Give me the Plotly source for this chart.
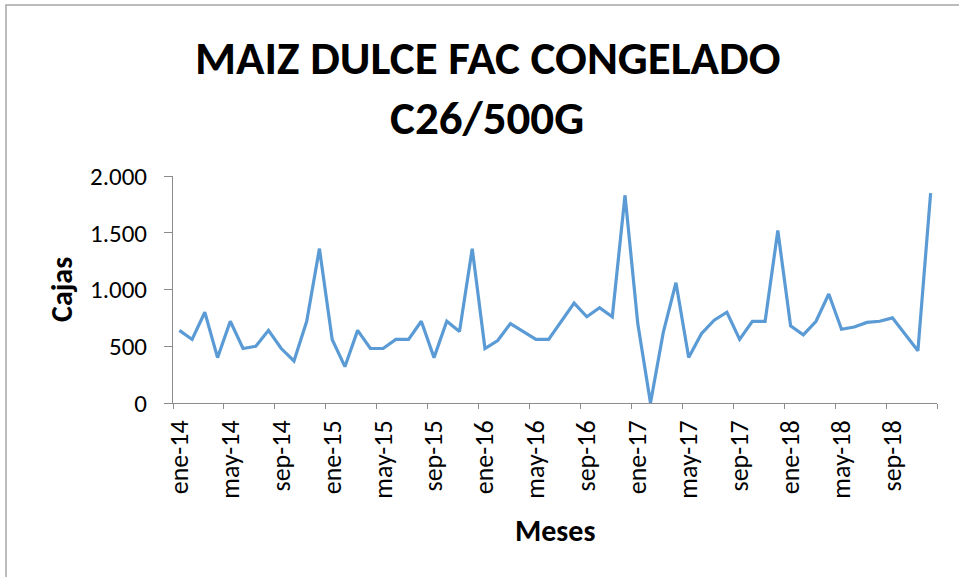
import plotly.graph_objects as go

month_abbr = ["ene", "feb", "mar", "abr", "may", "jun", "jul", "ago", "sep", "oct", "nov", "dic"]
years = ["14", "15", "16", "17", "18"]
months = [f"{m}-{y}" for y in years for m in month_abbr]

cajas = [
    640, 560, 800, 400, 720, 480, 500, 640, 480, 370, 720, 1360,
    560, 320, 640, 480, 480, 560, 560, 720, 400, 720, 630, 1360,
    480, 550, 700, 630, 560, 560, 720, 880, 760, 840, 760, 1830,
    700, 0, 620, 1060, 400, 610, 730, 800, 560, 720, 720, 1520,
    680, 600, 720, 960, 650, 670, 710, 720, 750, 600, 460, 1850,
]

title_lines = ["MAIZ DULCE FAC CONGELADO", "C26/500G"]
x_title = "Meses"
y_title = "Cajas"
y_ticks = [0, 500, 1000, 1500, 2000]
y_ticktext = ["0", "500", "1.000", "1.500", "2.000"]

FONT = "Calibri, Carlito, Lato, sans-serif"
AXIS_GREY = "#8c8c8c"

fig = go.Figure()
fig.add_trace(go.Scatter(
    x=months, y=cajas, mode="lines",
    line=dict(color="#5B9BD5", width=3.2),
    showlegend=False, hoverinfo="x+y",
))

L, R, T, B = 173, 22, 176, 174
W, H = 959, 577
pw, ph = W - L - R, H - T - B

def px_x(p):
    return (p - L) / pw

def px_y(p):
    return (H - B - p) / ph

fig.update_layout(
    width=W, height=H,
    margin=dict(l=L, r=R, t=T, b=B),
    paper_bgcolor="white", plot_bgcolor="white",
    font=dict(family=FONT, color="black"),
    xaxis=dict(
        type="category",
        range=[-0.5, len(months) - 0.5],
        dtick=4,
        tickson="boundaries",
        tickangle=-90,
        ticks="outside", ticklen=5, tickcolor=AXIS_GREY,
        showline=True, linecolor=AXIS_GREY, linewidth=1,
        showgrid=False, zeroline=False,
        tickfont=dict(size=26, family=FONT),
        ticklabelstandoff=6,
        automargin=False,
    ),
    yaxis=dict(
        range=[0, 2000],
        tickvals=y_ticks, ticktext=y_ticktext,
        ticks="outside", ticklen=8, tickcolor=AXIS_GREY,
        showline=True, linecolor=AXIS_GREY, linewidth=1,
        showgrid=False, zeroline=False,
        tickfont=dict(size=25, family=FONT),
        ticklabelstandoff=12,
        automargin=False,
    ),
    shapes=[dict(
        type="rect", xref="paper", yref="paper",
        x0=px_x(6), x1=px_x(975), y0=px_y(5), y1=px_y(600),
        line=dict(color="#a6a6a6", width=1.5), fillcolor="rgba(0,0,0,0)",
        layer="below",
    )],
    annotations=[
        dict(text=f"<b>{title_lines[0]}</b>", x=px_x(487), y=px_y(58),
             xref="paper", yref="paper", xanchor="center", yanchor="middle",
             showarrow=False, font=dict(size=47, family=FONT)),
        dict(text=f"<b>{title_lines[1]}</b>", x=px_x(487), y=px_y(118),
             xref="paper", yref="paper", xanchor="center", yanchor="middle",
             showarrow=False, font=dict(size=47, family=FONT)),
        dict(text=f"<b>{x_title}</b>", x=px_x(555), y=px_y(530),
             xref="paper", yref="paper", xanchor="center", yanchor="middle",
             showarrow=False, font=dict(size=30, family=FONT)),
        dict(text=f"<b>{y_title}</b>", x=px_x(61), y=px_y(290),
             xref="paper", yref="paper", xanchor="center", yanchor="middle",
             textangle=-90, showarrow=False, font=dict(size=30, family=FONT)),
    ],
)

fig.write_html("out.html", config={"displayModeBar": False},
               post_script="document.body.style.margin='0';")
